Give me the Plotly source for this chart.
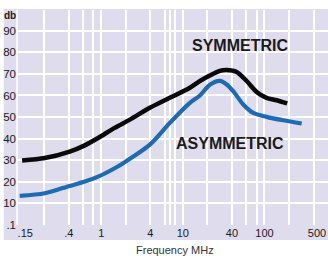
import plotly.graph_objects as go

# Symmetric curve (black)
freq_sym = [0.107, 0.203, 0.41, 0.628, 0.913, 1.46, 2.24, 3.94, 6.92, 12.2, 16.2, 21.4, 28.4, 34.4, 45.6, 60.5, 80.2, 106, 141, 190]
db_sym = [29.9, 31.0, 34.0, 36.9, 40.3, 45.0, 48.8, 54.3, 58.9, 63.6, 66.7, 69.2, 71.4, 71.8, 70.9, 66.7, 61.6, 58.9, 57.8, 56.3]

# Asymmetric curve (blue)
freq_asym = [0.1, 0.203, 0.41, 0.628, 0.913, 1.46, 1.94, 3.94, 6.92, 12.2, 16.2, 21.4, 28.4, 34.4, 41.4, 55, 73, 106, 170, 286]
db_asym = [13.5, 14.7, 18.1, 20.1, 22.4, 26.3, 29.1, 37.2, 47.3, 56.6, 60.0, 65.0, 66.8, 65.1, 62.0, 55.8, 51.9, 50.1, 48.5, 47.0]

# Axis ticks
x_grid = [0.2, 0.4, 0.6, 0.8, 1, 2, 4, 6, 7, 8, 10, 20, 40, 60, 80, 100, 200, 400]
x_label_vals = [0.117, 0.4, 1, 4, 10, 40, 100, 440]
x_label_text = [".15", ".4", "1", "4", "10", "40", "100", "500"]
y_vals = [0, 10, 20, 30, 40, 50, 60, 70, 80, 90]
y_text = [".1", "10", "20", "30", "40", "50", "60", "70", "80", "90"]

BG = "#dfdcee"
FONT = "Liberation Sans, Arial, sans-serif"
XR = [-1.033, 2.779]

fig = go.Figure()
fig.add_trace(go.Scatter(x=freq_sym, y=db_sym, mode="lines",
                         line=dict(color="#0a0a0a", width=4.5, shape="spline", smoothing=0.8),
                         hoverinfo="skip"))
fig.add_trace(go.Scatter(x=freq_asym, y=db_asym, mode="lines",
                         line=dict(color="#1c6bb3", width=4.2, shape="spline", smoothing=0.8),
                         hoverinfo="skip"))
# invisible trace to carry the label axis
fig.add_trace(go.Scatter(x=[1], y=[50], xaxis="x2", mode="markers",
                         marker=dict(opacity=0), hoverinfo="skip"))

fig.update_layout(
    width=328, height=259,
    margin=dict(l=17, r=0, t=10, b=34, autoexpand=False),
    paper_bgcolor="white", plot_bgcolor=BG,
    showlegend=False,
    font=dict(family=FONT, size=11, color="#1a1a1a"),
    xaxis=dict(type="log", range=XR, tickvals=x_grid, showticklabels=False,
               showgrid=True, gridcolor="white", gridwidth=1.5, automargin=False,
               showline=False, zeroline=False, ticks=""),
    xaxis2=dict(type="log", range=XR, overlaying="x", side="bottom", anchor="y",
                tickvals=x_label_vals, ticktext=x_label_text, showgrid=False,
                showline=False, zeroline=False, ticks="", automargin=False,
                ticklabelstandoff=0,
                tickfont=dict(size=11, color="#1a1a1a")),
    yaxis=dict(range=[0, 99.6], tickvals=y_vals, ticktext=y_text,
               showgrid=True, gridcolor="white", gridwidth=1.5, automargin=False,
               zeroline=False, ticks="", showline=False, ticklabelstandoff=0,
               tickfont=dict(size=11.5, color="#1a1a1a")),
    shapes=[
        dict(type="rect", xref="paper", yref="paper", x0=-0.0428, x1=1.0, y0=-0.07, y1=1.005,
             fillcolor=BG, line=dict(width=0), layer="below"),
        dict(type="line", xref="paper", yref="paper", x0=0, x1=0, y0=0, y1=1,
             line=dict(color="white", width=1.5), layer="below"),
    ],
    annotations=[
        dict(text="<b>db</b>", xref="paper", yref="paper", x=-0.021, y=0.975,
             xanchor="center", yanchor="middle",
             showarrow=False, font=dict(size=10, color="#1a1a1a")),
        dict(text="<b>SYMMETRIC</b>", xref="paper", yref="paper", x=0.718, y=0.837,
             xanchor="center", yanchor="middle",
             showarrow=False, font=dict(size=16, color="#1a1a1a")),
        dict(text="<b>ASYMMETRIC</b>", xref="paper", yref="paper", x=0.686, y=0.381,
             xanchor="center", yanchor="middle",
             showarrow=False, font=dict(size=16, color="#1a1a1a")),
        dict(text="Frequency MHz", xref="paper", yref="paper", x=0.508, y=-0.116,
             xanchor="center", yanchor="middle",
             showarrow=False, font=dict(size=11, color="#333333")),
    ],
)

fig.write_html("out.html", config={"displayModeBar": False},
               post_script="document.body.style.margin='0';document.body.style.padding='0';")
